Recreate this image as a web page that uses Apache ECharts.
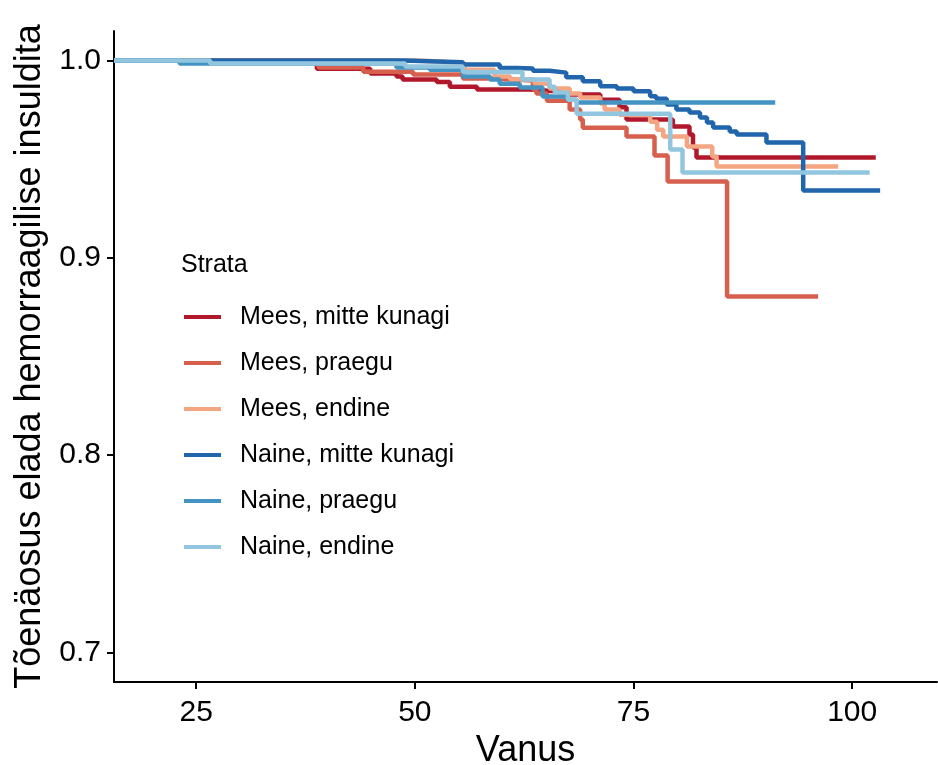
<!DOCTYPE html>
<html>
<head>
<meta charset="utf-8">
<script src="https://cdn.jsdelivr.net/npm/echarts@6/dist/echarts.min.js"></script>
<style>html,body{margin:0;padding:0;background:#fff}#c{width:938px;height:765px}</style>
</head>
<body>
<div id="c"></div>
<script>
const seriesNames = ["Mees, mitte kunagi", "Mees, praegu", "Mees, endine", "Naine, mitte kunagi", "Naine, praegu", "Naine, endine"];
const colors = ["#B2182B", "#D6604D", "#F4A582", "#2166AC", "#4393C3", "#92C5DE"];
const xTicks = [25, 50, 75, 100];
const yTicks = [0.7, 0.8, 0.9, 1.0];

// Kaplan-Meier step values: ages and survival probabilities
const meesMitteAge = [15.6, 38.8, 44.9, 47.9, 48.6, 52.5, 54.0, 57.1, 63.1, 66.6, 71.2, 73.4, 74.2, 79.5, 81.4, 81.8, 82.2, 102.7];
const meesMitteSurv = [1.0, 0.9959, 0.9934, 0.9919, 0.9904, 0.9891, 0.9868, 0.9853, 0.9843, 0.9828, 0.9802, 0.9764, 0.9701, 0.9666, 0.9625, 0.9559, 0.9509, 0.9509];

const meesPraeguAge = [15.6, 39.0, 44.1, 49.8, 55.5, 58.6, 63.5, 63.9, 65.1, 67.7, 68.9, 69.2, 74.2, 77.4, 78.9, 85.7, 96.1];
const meesPraeguSurv = [1.0, 0.9965, 0.9944, 0.9929, 0.9909, 0.9899, 0.9853, 0.9833, 0.9797, 0.9752, 0.9701, 0.9660, 0.9615, 0.9519, 0.9387, 0.8804, 0.8804];

const meesEndineAge = [15.6, 50.2, 52.9, 55.7, 59.1, 60.9, 63.7, 65.4, 67.7, 68.9, 71.2, 71.7, 73.4, 76.9, 77.7, 78.4, 81.1, 84.0, 84.5, 98.4];
const meesEndineSurv = [1.0, 0.9995, 0.9985, 0.9954, 0.9919, 0.9904, 0.9883, 0.9858, 0.9833, 0.9813, 0.9782, 0.9752, 0.9726, 0.9690, 0.9650, 0.9615, 0.9564, 0.9514, 0.9463, 0.9463];

const naineMitteAge = [15.6, 48.6, 55.5, 59.7, 61.6, 63.5, 65.4, 67.3, 69.2, 71.2, 73.1, 75.0, 76.9, 77.6, 78.8, 79.9, 81.4, 82.6, 83.4, 84.1, 86.0, 86.8, 90.2, 94.4, 103.2];
const naineMitteSurv = [1.0, 0.9992, 0.9980, 0.9963, 0.9960, 0.9949, 0.9939, 0.9915, 0.9895, 0.9870, 0.9858, 0.9844, 0.9819, 0.9807, 0.9777, 0.9752, 0.9737, 0.9711, 0.9686, 0.9661, 0.9640, 0.9625, 0.9585, 0.9341, 0.9341];

const nainePraeguAge = [15.6, 23.1, 47.9, 51.7, 55.5, 58.6, 59.7, 62.0, 64.6, 67.4, 68.5, 91.2];
const nainePraeguSurv = [1.0, 0.9985, 0.9965, 0.9954, 0.9919, 0.9904, 0.9883, 0.9863, 0.9818, 0.9802, 0.9787, 0.9787];

const naineEndineAge = [15.6, 26.6, 48.9, 55.5, 62.3, 65.4, 66.0, 67.5, 68.5, 79.2, 80.6, 102.0];
const naineEndineSurv = [1.0, 0.9985, 0.9970, 0.9942, 0.9904, 0.9868, 0.9838, 0.9802, 0.9731, 0.9549, 0.9433, 0.9433];

const ages = [meesMitteAge, meesPraeguAge, meesEndineAge, naineMitteAge, nainePraeguAge, naineEndineAge];
const survs = [meesMitteSurv, meesPraeguSurv, meesEndineSurv, naineMitteSurv, nainePraeguSurv, naineEndineSurv];

const FONT = "Liberation Sans, Arial, Helvetica, sans-serif";

const chart = echarts.init(document.getElementById('c'), null, {renderer: 'canvas'});
chart.setOption({
  animation: false,
  backgroundColor: '#ffffff',
  textStyle: {fontFamily: FONT},
  grid: {left: 114, right: 1, top: 31, bottom: 83, outerBoundsMode: 'none', containLabel: false},
  legend: {
    orient: 'vertical',
    left: 184,
    top: 303,
    padding: 0,
    icon: 'rect',
    itemWidth: 37,
    itemHeight: 4,
    itemGap: 18,
    textStyle: {fontFamily: FONT, fontSize: 25, color: '#000', lineHeight: 28, padding: [0, 0, 0, 14]},
    data: seriesNames
  },
  graphic: [{
    type: 'text', left: 181, top: 253,
    style: {text: 'Strata', font: '25px ' + FONT, fill: '#000'}
  }],
  xAxis: {
    type: 'value', min: 15.6, max: 109.7,
    name: 'Vanus', nameLocation: 'middle', nameGap: 44,
    nameTextStyle: {fontFamily: FONT, fontSize: 36, color: '#000'},
    axisLine: {lineStyle: {color: '#000', width: 2}},
    axisTick: {show: true, length: 7, lineStyle: {color: '#000', width: 2}, customValues: xTicks},
    axisLabel: {fontFamily: FONT, fontSize: 30, color: '#000', margin: 16, customValues: xTicks},
    splitLine: {show: false}
  },
  yAxis: {
    type: 'value', min: 0.685, max: 1.015,
    name: 'Tõenäosus elada hemorraagilise insuldita', nameLocation: 'middle', nameGap: 63,
    nameTextStyle: {fontFamily: FONT, fontSize: 36, color: '#000'},
    axisLine: {show: true, lineStyle: {color: '#000', width: 2}},
    axisTick: {show: true, length: 7, lineStyle: {color: '#000', width: 2}, customValues: yTicks},
    axisLabel: {fontFamily: FONT, fontSize: 30, color: '#000', margin: 13, customValues: yTicks,
      formatter: v => v.toFixed(1)},
    splitLine: {show: false}
  },
  series: seriesNames.map((n, i) => ({
    name: n, type: 'line', step: 'end', showSymbol: false, symbol: 'none',
    color: colors[i],
    lineStyle: {width: 4.5, color: colors[i]},
    data: ages[i].map((a, j) => [a, survs[i][j]]),
    z: 2 + i
  }))
});
</script>
</body>
</html>
